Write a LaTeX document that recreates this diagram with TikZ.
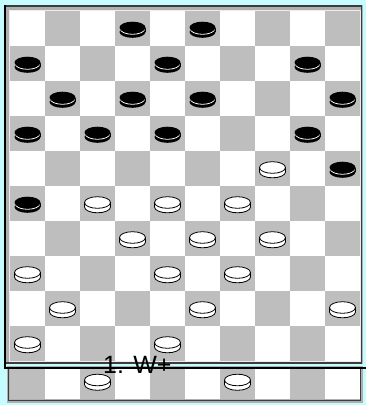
\documentclass[tikz,border=0pt]{standalone}
\usepackage{fontspec}
\setmainfont{Liberation Sans}
\definecolor{bgcyan}{RGB}{196,252,255}
\definecolor{sqgray}{RGB}{190,190,190}
\definecolor{bandgray}{RGB}{175,175,175}
\definecolor{darkline}{RGB}{60,60,60}
\tikzset{
  wpiece/.pic={
    \fill[white,draw=black,line width=0.8] (0,3.5) ellipse[x radius=13,y radius=5.8];
    \fill[white] (-13,-1) rectangle (13,3.5);
    \draw[black,line width=0.8] (-13,-1) -- (-13,3.5) (13,-1) -- (13,3.5);
    \fill[white,draw=black,line width=0.8] (0,-1) ellipse[x radius=13,y radius=5.8];
  },
  bpiece/.pic={
    \fill[black] (0,3.5) ellipse[x radius=13,y radius=5.8];
    \fill[black] (-13,-1) rectangle (13,3.5);
    \draw[white,line width=0.8] (0,0.2) ellipse[x radius=12.3,y radius=5.6];
    \fill[black] (0,-1) ellipse[x radius=13,y radius=5.8];
  }
}
\begin{document}
\begin{tikzpicture}[x=1pt,y=-1pt]
\useasboundingbox (0,0) rectangle (366,405);
\fill[bgcyan] (0,0) rectangle (366,405);
% top board frame
\fill[bandgray] (4,5) rectangle (362.5,364);
\draw[darkline,line width=1.5] (4,6) -- (361.5,6) -- (361.5,363) -- (4,363);
\fill[white!85!gray] (8.5,9.5) rectangle (360.5,362);
% squares of the top board
\foreach \r in {0,...,9}{
  \foreach \c in {0,...,9}{
    \pgfmathtruncatemacro{\parity}{mod(\r+\c,2)}
    \ifnum\parity=1
      \fill[sqgray] ({10+35*\c},{11+35*\r}) rectangle ++(35,35);
    \else
      \fill[white] ({10+35*\c},{11+35*\r}) rectangle ++(35,35);
    \fi
  }
}
% bottom strip
\fill[bandgray] (6.5,366) rectangle (362.5,403);
\draw[darkline,line width=1.2] (8.5,369) -- (8.5,400.5) -- (360.8,400.5) -- (360.8,369);
\foreach \c in {0,...,9}{
  \pgfmathtruncatemacro{\parity}{mod(\c,2)}
  \ifnum\parity=0
    \fill[sqgray] ({10+35*\c},369) rectangle ++(35,30);
  \else
    \fill[white] ({10+35*\c},369) rectangle ++(35,30);
  \fi
}
% black L line
\draw[black,line width=2] (4.5,5) -- (4.5,367.5) -- (366,367.5);
% pieces
\foreach \c/\r in {3/0,5/0,0/1,4/1,8/1,1/2,3/2,5/2,9/2,0/3,2/3,4/3,8/3,9/4,0/5}{
  \pic at ({27.5+35*\c},{28.5+35*\r}) {bpiece};
}
\foreach \c/\r in {7/4,2/5,4/5,6/5,3/6,5/6,7/6,0/7,4/7,6/7,1/8,5/8,9/8,0/9,4/9}{
  \pic at ({27.5+35*\c},{28.5+35*\r}) {wpiece};
}
\foreach \c in {2,6}{
  \pic at ({27.5+35*\c},381) {wpiece};
}
\node[font=\fontsize{25}{25}\selectfont,anchor=base west,inner sep=0pt] (movelabel) at (103,373) {1. W+};
\end{tikzpicture}
\end{document}
